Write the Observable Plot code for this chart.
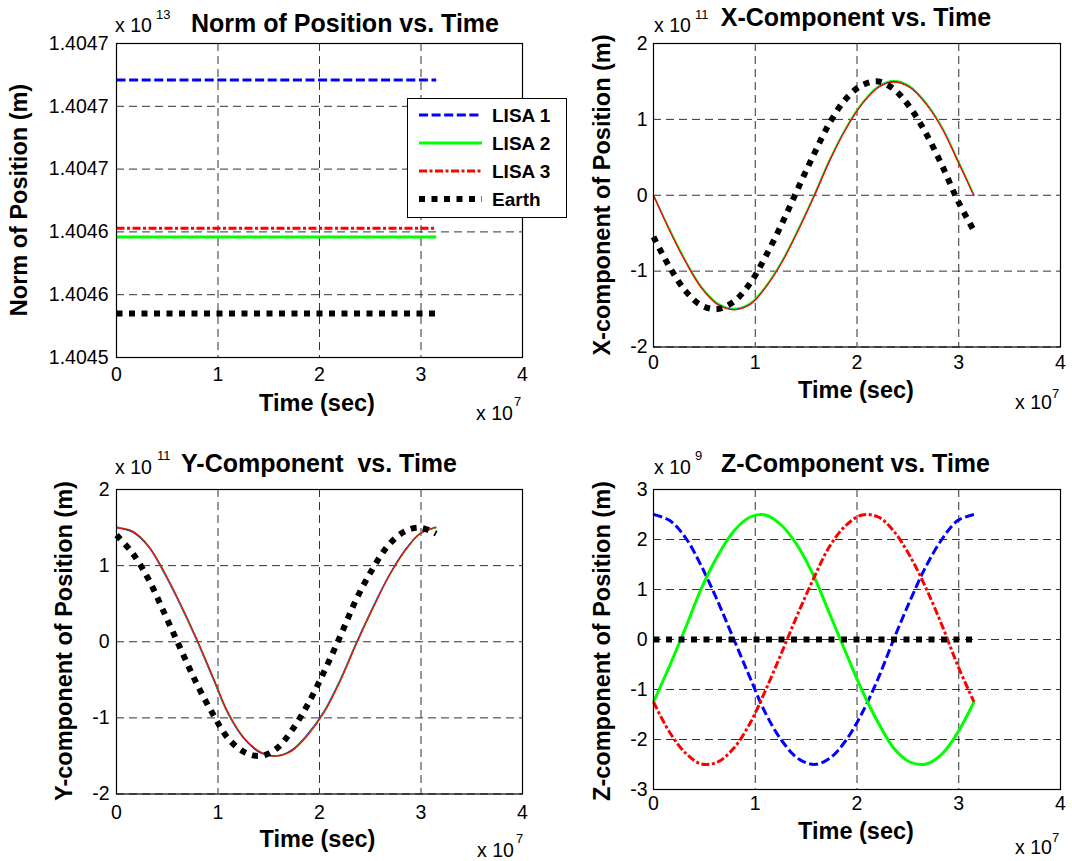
<!DOCTYPE html>
<html>
<head>
<meta charset="utf-8">
<script src="https://cdn.jsdelivr.net/npm/d3@7"></script>
<script src="https://cdn.jsdelivr.net/npm/@observablehq/plot@0.6"></script>
<style>
html, body { margin: 0; padding: 0; background: #fff; }
#fig { position: relative; width: 1072px; height: 861px; overflow: hidden; background: #fff;
  font-family: "Liberation Sans", Arial, Helvetica, sans-serif; color: #000; }
.t { position: absolute; white-space: pre; line-height: 1; }
</style>
</head>
<body>
<div id="fig"></div>
<script>
// ---------------- data ----------------
// time axis in units of 1e7 s
const time = [0, 0.16, 0.32, 0.47, 0.63, 0.79, 0.95, 1.10, 1.26, 1.42, 1.58, 1.73, 1.89, 2.05, 2.21, 2.36, 2.52, 2.68, 2.84, 2.99, 3.15];
const xTicks = [0, 1, 2, 3, 4];
const xTickLabels = ["0", "1", "2", "3", "4"];

// Norm of position (units of 1e13 m)
const normTime = [0, 3.15];
const normLisa1 = [1.404721, 1.404721];
const normLisa2 = [1.404596, 1.404596];
const normLisa3 = [1.404603, 1.404603];
const normEarth = [1.404535, 1.404535];
const normTicks = [1.4045, 1.40455, 1.4046, 1.40465, 1.4047, 1.40475];
const normTickLabels = ["1.4045", "1.4046", "1.4046", "1.4047", "1.4047", "1.4047"];

// X component (units of 1e11 m)
const xLisa1 = [0, -0.46, -0.88, -1.21, -1.43, -1.50, -1.43, -1.21, -0.88, -0.46, 0, 0.46, 0.88, 1.21, 1.43, 1.50, 1.43, 1.21, 0.88, 0.46, 0];
const xLisa2 = [0, -0.45, -0.87, -1.20, -1.42, -1.49, -1.42, -1.20, -0.87, -0.45, 0.01, 0.47, 0.89, 1.22, 1.44, 1.51, 1.44, 1.22, 0.89, 0.47, 0.01];
const xLisa3 = [0, -0.47, -0.89, -1.22, -1.44, -1.51, -1.44, -1.22, -0.89, -0.47, -0.01, 0.45, 0.87, 1.20, 1.42, 1.49, 1.42, 1.20, 0.87, 0.45, -0.01];
const xEarth = [-0.55, -0.95, -1.27, -1.45, -1.50, -1.40, -1.16, -0.81, -0.38, 0.09, 0.55, 0.95, 1.27, 1.45, 1.50, 1.40, 1.16, 0.81, 0.38, -0.07, -0.47];
const xyTicks = [-2, -1, 0, 1, 2];
const xyTickLabels = ["-2", "-1", "0", "1", "2"];

// Y component (units of 1e11 m)
const yLisa1 = [1.50, 1.44, 1.24, 0.90, 0.48, 0.02, -0.48, -0.95, -1.28, -1.46, -1.50, -1.42, -1.20, -0.90, -0.48, -0.02, 0.44, 0.86, 1.20, 1.42, 1.50];
const yLisa2 = [1.51, 1.45, 1.25, 0.91, 0.49, 0.03, -0.47, -0.94, -1.27, -1.45, -1.50, -1.43, -1.21, -0.91, -0.49, -0.03, 0.43, 0.85, 1.19, 1.42, 1.50];
const yLisa3 = [1.50, 1.45, 1.25, 0.92, 0.50, 0.04, -0.46, -0.93, -1.27, -1.45, -1.50, -1.43, -1.22, -0.92, -0.50, -0.04, 0.42, 0.85, 1.19, 1.42, 1.51];
const yEarth = [1.40, 1.16, 0.81, 0.38, -0.09, -0.55, -0.95, -1.27, -1.45, -1.50, -1.40, -1.16, -0.81, -0.38, 0.09, 0.55, 0.95, 1.27, 1.45, 1.50, 1.42];

// Z component (units of 1e9 m)
const zLisa1 = [2.50, 2.38, 2.02, 1.47, 0.77, 0, -0.77, -1.47, -2.02, -2.38, -2.50, -2.38, -2.02, -1.47, -0.77, 0, 0.77, 1.47, 2.02, 2.38, 2.50];
const zLisa2 = [-1.25, -0.52, 0.26, 1.02, 1.67, 2.17, 2.45, 2.49, 2.28, 1.86, 1.25, 0.52, -0.26, -1.02, -1.67, -2.17, -2.45, -2.49, -2.28, -1.86, -1.25];
const zLisa3 = [-1.25, -1.86, -2.28, -2.49, -2.45, -2.17, -1.67, -1.02, -0.26, 0.52, 1.25, 1.86, 2.28, 2.49, 2.45, 2.17, 1.67, 1.02, 0.26, -0.52, -1.25];
const zEarth = [0, 0, 0, 0, 0, 0, 0, 0, 0, 0, 0, 0, 0, 0, 0, 0, 0, 0, 0, 0, 0];
const zTicks = [-3, -2, -1, 0, 1, 2, 3];
const zTickLabels = ["-3", "-2", "-1", "0", "1", "2", "3"];

const seriesNames = ["LISA 1", "LISA 2", "LISA 3", "Earth"];

// ---------------- styles ----------------
const FONT = '"Liberation Sans", Arial, Helvetica, sans-serif';
const thick = [
  {stroke: "#0000ff", strokeWidth: 3, strokeDasharray: "9,3.6", strokeLinecap: "butt"},
  {stroke: "#00ff00", strokeWidth: 3, strokeLinecap: "butt"},
  {stroke: "#ff0000", strokeWidth: 3, strokeDasharray: "8,2.5,3,2.5", strokeLinecap: "butt"},
  {stroke: "#000000", strokeWidth: 6, strokeDasharray: "6,6.5", strokeLinecap: "butt"}
];
const thin = [
  {stroke: "#0000ff", strokeWidth: 1.3, strokeLinecap: "butt"},
  {stroke: "#00ff00", strokeWidth: 1.3, strokeLinecap: "butt"},
  {stroke: "#ff0000", strokeWidth: 1.3, strokeLinecap: "butt"},
  {stroke: "#000000", strokeWidth: 6, strokeDasharray: "6,6.5", strokeLinecap: "butt"}
];

const fig = document.getElementById("fig");
const rows = (ts, vs) => ts.map((t, i) => ({t, v: vs[i]}));
const lookup = (ticks, labels) => d => {
  let bi = 0, bd = Infinity;
  ticks.forEach((t, i) => { const dd = Math.abs(t - d); if (dd < bd) { bd = dd; bi = i; } });
  return labels[bi];
};
function lines(ts, seriesList, styles, curve) {
  return seriesList.map((vs, i) => Plot.line(rows(ts, vs), {x: "t", y: "v", curve, strokeLinejoin: "miter", ...styles[i]}));
}

function makePanel(p) {
  const ML = 110, MR = 20, MT = 40, MB = 45;
  const w = p.x1 - p.x0 + ML + MR, h = p.y1 - p.y0 + MT + MB;
  const chart = Plot.plot({
    width: w, height: h,
    marginLeft: ML, marginRight: MR, marginTop: MT, marginBottom: MB,
    style: {background: "transparent", fontFamily: FONT, fontSize: "19.5px", color: "#000", maxWidth: "none", overflow: "visible"},
    x: {domain: [0, 4], ticks: xTicks, tickFormat: lookup(xTicks, xTickLabels), tickSize: 0, tickPadding: p.padX, label: null},
    y: {domain: p.yDomain, ticks: p.yTicks, tickFormat: lookup(p.yTicks, p.yLabels), tickSize: 0, tickPadding: p.padY, label: null},
    marks: [
      Plot.ruleX(xTicks, {stroke: "#333", strokeWidth: 1, strokeDasharray: "8,5"}),
      Plot.ruleY(p.yTicks, {stroke: "#333", strokeWidth: 1, strokeDasharray: "8,5"}),
      ...p.marks,
      Plot.frame({stroke: "#000", strokeWidth: 1.2})
    ]
  });
  chart.style.position = "absolute";
  chart.style.left = (p.x0 - ML) + "px";
  chart.style.top = (p.y0 - MT) + "px";
  fig.appendChild(chart);
}

function txt(s, x, y, size, opts = {}) {
  const {bold = false, rot = 0, align = "center"} = opts;
  const d = document.createElement("div");
  d.className = "t";
  d.textContent = s;
  d.style.left = x + "px";
  d.style.top = y + "px";
  d.style.fontSize = size + "px";
  d.style.fontWeight = bold ? "bold" : "normal";
  const tx = align === "center" ? "-50%" : align === "left" ? "0" : "-100%";
  d.style.transform = `translate(${tx},-50%)` + (rot ? ` rotate(${rot}deg)` : "");
  fig.appendChild(d);
}
function expo(x, y, power, supX, supY) {
  txt("x 10", x, y, 19.5, {align: "left"});
  txt(power, supX, supY, 13, {align: "left"});
}

// ---------------- panels ----------------
// Top-left: norm
makePanel({
  x0: 116, x1: 522, y0: 43, y1: 357, padX: 10, padY: 8,
  yDomain: [1.4045, 1.40475], yTicks: normTicks, yLabels: normTickLabels,
  marks: lines(normTime, [normLisa1, normLisa2, normLisa3, normEarth], thick, "linear")
});
txt("Norm of Position vs. Time", 345, 23, 25, {bold: true});
expo(115, 26, "13", 156, 14);
txt("Norm of Position (m)", 20, 200, 23.5, {bold: true, rot: -90});
txt("Time (sec)", 317, 404, 23.5, {bold: true});
expo(476, 413.5, "7", 514, 401);

// Top-right: X component
makePanel({
  x0: 653, x1: 1060, y0: 43, y1: 346.5, padX: 8, padY: 6,
  yDomain: [-2, 2], yTicks: xyTicks, yLabels: xyTickLabels,
  marks: lines(time, [xLisa1, xLisa2, xLisa3, xEarth], thin, "catmull-rom")
});
txt("X-Component vs. Time", 856, 17, 25, {bold: true});
expo(654, 26, "11", 695, 14);
txt("X-component of Position (m)", 603, 195, 23.5, {bold: true, rot: -90});
txt("Time (sec)", 856, 391, 23.5, {bold: true});
expo(1015, 403, "7", 1052, 392.5);

// Bottom-left: Y component
makePanel({
  x0: 116, x1: 522, y0: 488.5, y1: 793, padX: 11, padY: 7,
  yDomain: [-2, 2], yTicks: xyTicks, yLabels: xyTickLabels,
  marks: lines(time, [yLisa1, yLisa2, yLisa3, yEarth], thin, "catmull-rom")
});
txt("Y-Component  vs. Time", 319, 463, 25, {bold: true});
expo(115, 468, "11", 157, 455);
txt("Y-component of Position (m)", 65, 641, 23.5, {bold: true, rot: -90});
txt("Time (sec)", 317.5, 839.5, 23.5, {bold: true});
expo(477, 851, "7", 516, 838);

// Bottom-right: Z component
makePanel({
  x0: 653, x1: 1060, y0: 489, y1: 789, padX: 7, padY: 6,
  yDomain: [-3, 3], yTicks: zTicks, yLabels: zTickLabels,
  marks: lines(time, [zLisa1, zLisa2, zLisa3, zEarth], thick, "catmull-rom")
});
txt("Z-Component vs. Time", 855.5, 463, 25, {bold: true});
expo(654, 468, "9", 695, 455);
txt("Z-component of Position (m)", 603, 641, 23.5, {bold: true, rot: -90});
txt("Time (sec)", 856, 831.5, 23.5, {bold: true});
expo(1015, 848, "7", 1052, 837);

// ---------------- legend (top-left panel) ----------------
const leg = document.createElement("div");
leg.style.cssText = "position:absolute;left:407px;top:98px;width:158px;height:118px;border:1.2px solid #000;background:#fff;";
fig.appendChild(leg);
const rowY = [115, 142.5, 171, 199.3];
seriesNames.forEach((name, i) => {
  const s = thick[i];
  const svg = document.createElementNS("http://www.w3.org/2000/svg", "svg");
  svg.setAttribute("width", 64); svg.setAttribute("height", 10);
  svg.style.cssText = `position:absolute;left:419px;top:${rowY[i] - 5}px;overflow:visible;`;
  const ln = document.createElementNS("http://www.w3.org/2000/svg", "line");
  ln.setAttribute("x1", 0); ln.setAttribute("x2", 63); ln.setAttribute("y1", 5); ln.setAttribute("y2", 5);
  ln.setAttribute("stroke", s.stroke); ln.setAttribute("stroke-width", s.strokeWidth);
  if (s.strokeDasharray) ln.setAttribute("stroke-dasharray", s.strokeDasharray);
  svg.appendChild(ln);
  fig.appendChild(svg);
  txt(name, 492, rowY[i], 19, {bold: true, align: "left"});
});
</script>
</body>
</html>
